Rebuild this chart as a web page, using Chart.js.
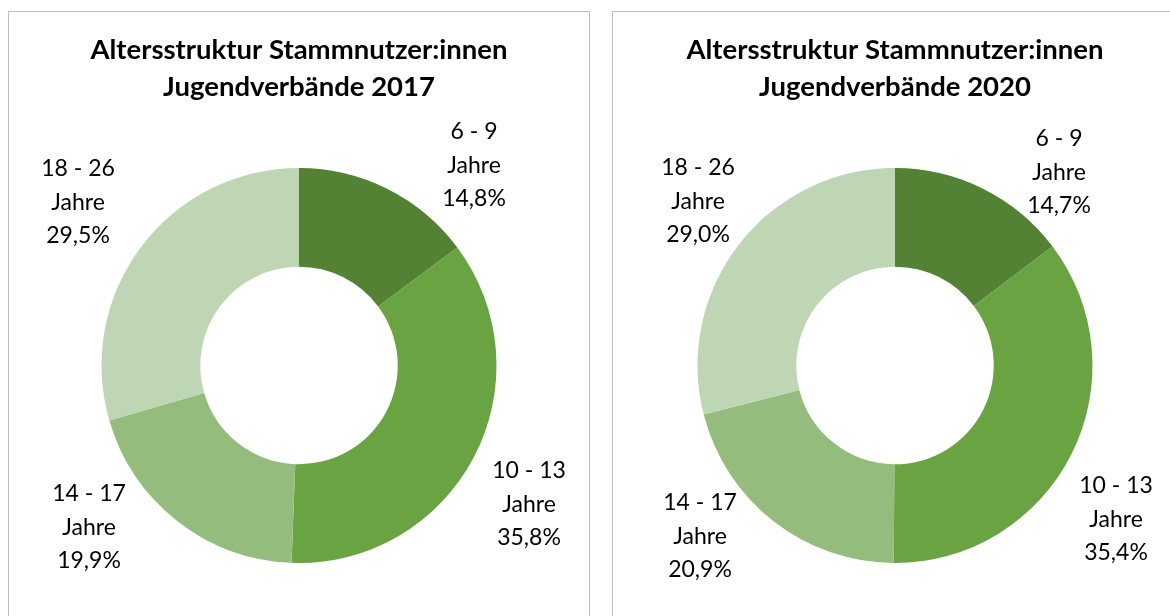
<!DOCTYPE html>
<html>
<head>
<meta charset="utf-8">
<script src="https://cdn.jsdelivr.net/npm/chart.js@4"></script>
<style>
  body { margin: 0; background: #fff; overflow: hidden; width: 1170px; height: 616px; position: relative; }
  .panel { position: absolute; top: 11px; height: 640px; border: 1px solid #bfbfbf; overflow: hidden; background: #fff; }
  #p1 { left: 8px; width: 580px; }
  #p2 { left: 612px; width: 600px; }
  canvas { position: absolute; left: 0; top: 0; }
</style>
</head>
<body>
<div class="panel" id="p1"><canvas id="chart2017" width="580" height="604"></canvas></div>
<div class="panel" id="p2"><canvas id="chart2020" width="564" height="604"></canvas></div>
<script>
const categories = ['6 - 9', '10 - 13', '14 - 17', '18 - 26'];
const values2017 = [14.8, 35.8, 19.9, 29.5];
const values2020 = [14.7, 35.4, 20.9, 29.0];
const colors = ['#548235', '#6AA342', '#93BC7D', '#BED6B3'];

// where Excel put the data labels, relative to the ring centre (middle line)
const labelOffsets2017 = [[175, -200], [230, 139], [-210, 162], [-221, -163]];
const labelOffsets2020 = [[164, -193], [221, 154], [-195, 171], [-197, -164]];

const fmt = v => v.toFixed(1).replace('.', ',') + '%';

const labelPlugin = {
    id: 'sliceLabels',
    afterDatasetsDraw(chart, args, opts) {
        const ctx = chart.ctx;
        const meta = chart.getDatasetMeta(0);
        const data = chart.data.datasets[0].data;
        ctx.save();
        ctx.font = '23px Lato';
        ctx.fillStyle = '#000';
        ctx.textAlign = 'center';
        ctx.textBaseline = 'middle';
        meta.data.forEach((arc, i) => {
            const cx = arc.x + opts.offsets[i][0];
            const cy = arc.y + opts.offsets[i][1];
            const lines = [chart.data.labels[i], 'Jahre', fmt(data[i])];
            lines.forEach((t, j) => ctx.fillText(t, cx, cy + (j - 1) * 33.5));
        });
        ctx.restore();
    }
};

function makeChart(id, year, values, offsets) {
    return new Chart(document.getElementById(id), {
        type: 'doughnut',
        data: {
            labels: categories,
            datasets: [{
                data: values,
                backgroundColor: colors,
                borderWidth: 0,
                hoverOffset: 0
            }]
        },
        options: {
            responsive: false,
            animation: false,
            cutout: '50%',
            layout: { padding: { top: 0, bottom: 53, left: 0, right: 0 } },
            plugins: {
                legend: { display: false },
                tooltip: { enabled: false },
                title: {
                    display: true,
                    text: ['Altersstruktur Stammnutzer:innen', 'Jugendverbände ' + year],
                    color: '#000',
                    font: { family: 'Lato', size: 27.5, weight: 'bold', lineHeight: 37 / 27.5 },
                    padding: { top: 19.5, bottom: 62.5 }
                },
                sliceLabels: { offsets: offsets }
            }
        },
        plugins: [labelPlugin]
    });
}

makeChart('chart2017', 2017, values2017, labelOffsets2017);
makeChart('chart2020', 2020, values2020, labelOffsets2020);
</script>
</body>
</html>
